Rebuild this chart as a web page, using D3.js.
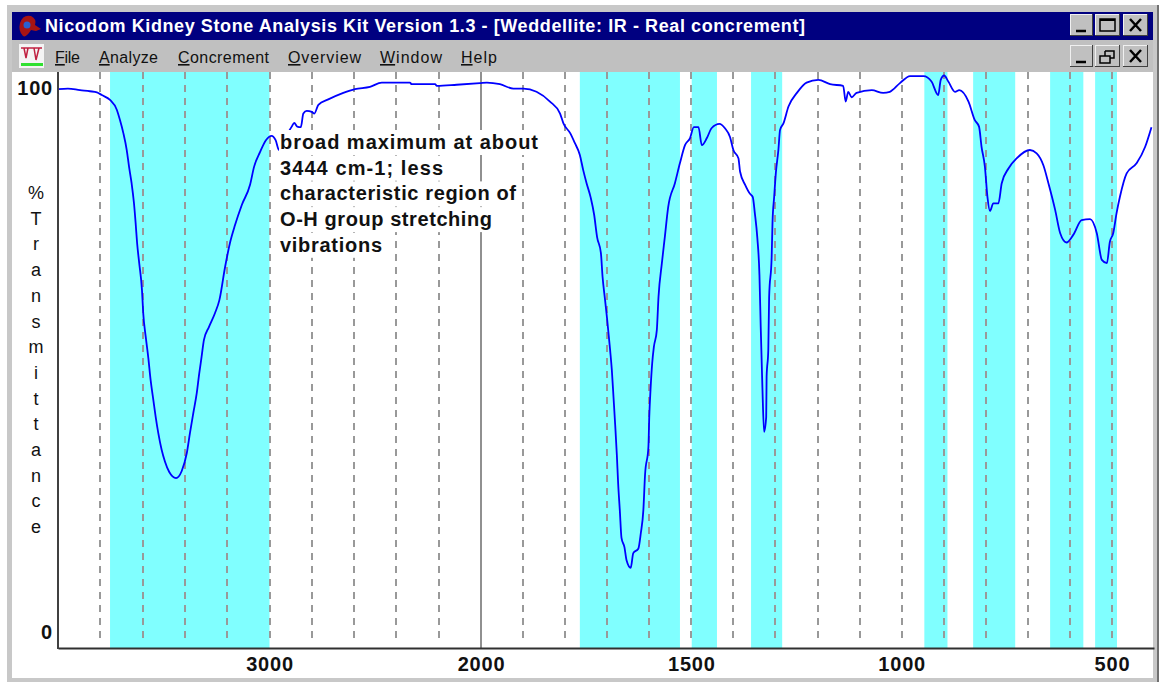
<!DOCTYPE html>
<html>
<head>
<meta charset="utf-8">
<title>Weddellite: IR - Real concrement</title>
<script src="https://cdn.jsdelivr.net/npm/d3@7"></script>
<style>
    html, body { margin: 0; padding: 0; background: #fff; }
    svg { display: block; font-family: "Liberation Sans", Arial, sans-serif; }
</style>
</head>
<body>
<div id="svg-container"></div>
<script>
const titleText = "Nicodom Kidney Stone Analysis Kit Version 1.3 - [Weddellite: IR - Real concrement]";
const menuNames = ["File", "Analyze", "Concrement", "Overview", "Window", "Help"];
const yLetters = "%Transmittance".split("");
const noteLines = [
    "broad maximum at about",
    "3444 cm-1; less",
    "characteristic region of",
    "O-H group stretching",
    "vibrations"
];

// wavenumber axis is not linear: 4000-2000 is squeezed to half the scale of 2000-400
const xBreaks = [4000, 2000, 400];
const xTicks = [3000, 2000, 1500, 1000, 500];
const yTicks = [0, 100];
const dashedLines = [3800, 3600, 3400, 3200, 3000, 2800, 2600, 2400, 2200,
    1900, 1800, 1700, 1600, 1500, 1400, 1300, 1200, 1100, 1000, 900, 800, 700, 600, 500];
const bandStart = [3754, 1765, 1499, 1358, 946, 830, 647, 540];
const bandEnd = [3000, 1527, 1439, 1284, 891, 730, 568, 488];

const wavenumber = [
    3999, 3953, 3896, 3849, 3816, 3793, 3754, 3722, 3707, 3691, 3675, 3664, 3652, 3641, 3633, 3626,
    3616, 3603, 3597, 3585, 3573, 3562, 3549, 3538, 3526, 3510, 3494, 3474, 3442, 3415, 3391, 3376,
    3360, 3344, 3332, 3321, 3310, 3286, 3258, 3237, 3210, 3187, 3163, 3131, 3092, 3073, 3045, 3017,
    2990, 2971, 2955, 2927, 2895, 2883, 2869, 2852, 2840, 2824, 2800, 2788, 2769, 2722, 2651, 2596,
    2525, 2469, 2416, 2336, 2328, 2217, 2209, 2115, 2005, 1986, 1955, 1923, 1899, 1868, 1836, 1812,
    1804, 1788, 1777, 1765, 1757, 1749, 1739, 1731, 1724, 1715, 1711, 1705, 1700, 1693, 1689, 1685,
    1681, 1677, 1674, 1670, 1666, 1659, 1654, 1644, 1638, 1626, 1620, 1614, 1610, 1602, 1600, 1597,
    1593, 1589, 1582, 1578, 1570, 1563, 1555, 1539, 1527, 1515, 1503, 1494, 1483, 1475, 1463, 1452,
    1433, 1420, 1408, 1400, 1388, 1384, 1372, 1360, 1354, 1349, 1343, 1338, 1335, 1331, 1327, 1322,
    1321, 1317, 1315, 1309, 1307, 1303, 1299, 1293, 1289, 1281, 1269, 1249, 1226, 1198, 1170, 1139,
    1133, 1127, 1119, 1107, 1071, 1044, 1028, 1004, 980, 948, 929, 913, 907, 899, 889, 873,
    863, 841, 826, 816, 810, 802, 796, 790, 782, 770, 762, 746, 726, 695, 679, 663,
    651, 635, 623, 608, 592, 572, 552, 536, 524, 512, 505, 497, 489, 481, 465, 441,
    421, 406
];
const transmittance = [
    99.8, 99.9, 99.6, 99.4, 99.2, 98.7, 97.8, 96, 94.1, 91.7, 88.6, 85.5, 82.5, 78.9, 75.2, 71.5,
    67.8, 62.9, 58.6, 54.2, 50.4, 46.3, 42.6, 39.5, 36.6, 33.5, 31.3, 29.4, 28.3, 29.6, 32.9, 36.6,
    40.3, 43.9, 47.6, 50.6, 53.7, 56.1, 58.6, 61, 67.1, 71.5, 74.8, 78.5, 82.2, 85.5, 88.2, 90.4,
    91.2, 90.4, 88.6, 90.8, 92.9, 93.6, 92.9, 92.8, 95.3, 95.8, 95.6, 95.3, 96.9, 97.9, 99.1, 99.8,
    100.2, 101, 101, 101, 100.7, 100.7, 100.4, 100.6, 100.9, 101, 100.7, 99.9, 99.9, 99.3, 97.5, 95.3,
    93.5, 91.7, 89.9, 87.7, 84.9, 82.5, 79.8, 76.7, 72.6, 69.7, 65.3, 61, 57.4, 51.8, 48.2, 43.2,
    38.1, 32.5, 27.4, 22.4, 17.3, 15.6, 13.2, 11.8, 14.5, 15.3, 18.2, 22.4, 28.9, 34, 39.5, 44.5,
    49.4, 52.4, 55.5, 61.6, 67.8, 72.6, 78.1, 82.5, 86.2, 89.5, 90.8, 92.8, 92.8, 89.5, 90.8, 92.6,
    93.4, 92.6, 91, 88.6, 87.1, 84.6, 82.2, 80.5, 80, 77, 72.4, 65.6, 56.1, 45, 36.8, 39.5,
    46.9, 51.8, 61.6, 68.9, 75.2, 80, 84.4, 88.6, 92.3, 93.5, 96.6, 99.1, 101, 101.5, 100.7, 100.4,
    97.5, 99.3, 98.3, 99.1, 99.6, 99.1, 99.3, 100.9, 102.2, 102.2, 101.2, 98.7, 101.5, 102.3, 101.2, 99.3,
    99.6, 97.5, 94.1, 92.9, 89.2, 85.5, 80, 77.4, 78.8, 78.8, 82.5, 85.2, 87.1, 88.6, 88, 85.8,
    82.5, 77.6, 73.3, 71.6, 73, 75.7, 75.9, 73.3, 68.4, 67.8, 71.7, 73.3, 77, 80, 84.3, 86.2,
    89.2, 92.8
];

const width = 1161;
const height = 682;

const svg = d3.select("#svg-container")
    .append("svg")
    .attr("width", width)
    .attr("height", height)
    .attr("viewBox", `0 0 ${width} ${height}`);

const x = d3.scaleLinear().domain(xBreaks).range([58, 481, 1154]);
const y = d3.scaleLinear().domain([0, 100]).range([632, 88]);
const plotTop = 72;
const plotBottom = 648;

// window frame
svg.append("rect").attr("x", 7).attr("y", 5).attr("width", 1151).attr("height", 677).attr("fill", "#c8c8c8");
svg.append("rect").attr("x", 1157).attr("y", 5).attr("width", 2).attr("height", 677).attr("fill", "#707070");
svg.append("rect").attr("x", 12).attr("y", 72).attr("width", 1141).attr("height", 606).attr("fill", "#fff");
svg.append("rect").attr("x", 12).attr("y", 12).attr("width", 1141).attr("height", 28).attr("fill", "#000080");
svg.append("rect").attr("x", 12).attr("y", 40).attr("width", 1141).attr("height", 32).attr("fill", "#c0c0c0");

svg.append("path")
    .attr("d", "M20 23 Q23 14 31 16 Q37 19 35 25 L41 29 L36 31 L31 30 Q26 38 23 36 Q18 31 20 23 Z")
    .attr("fill", "#a81414");
svg.append("circle").attr("cx", 27).attr("cy", 25).attr("r", 3.5).attr("fill", "#2a60d0");

svg.append("text")
    .attr("x", 45).attr("y", 32)
    .attr("textLength", 760)
    .attr("font-size", 18).attr("font-weight", "bold").attr("fill", "#fff")
    .text(titleText);

// menu bar
const menuX = [55, 99, 178, 288, 380, 461];
const menuW = [25, 59, 91, 73, 62, 36];
const menu = svg.selectAll(".menu")
    .data(menuNames)
    .enter()
    .append("text")
    .attr("class", "menu")
    .attr("x", (d, i) => menuX[i]).attr("y", 63)
    .attr("textLength", (d, i) => menuW[i])
    .attr("font-size", 16).attr("fill", "#111");
menu.append("tspan").attr("text-decoration", "underline").text(d => d[0]);
menu.append("tspan").text(d => d.slice(1));

const icon = svg.append("g");
icon.append("rect").attr("x", 19).attr("y", 44).attr("width", 25).attr("height", 24).attr("fill", "#f4f4f4");
icon.append("path").attr("d", "M21 48 H42 M24 48 L26 58 L28 48 M34 48 L36 60 L39 48").attr("fill", "none").attr("stroke", "#c02040").attr("stroke-width", 1.5);
icon.append("rect").attr("x", 21).attr("y", 63).attr("width", 22).attr("height", 3).attr("fill", "#30e030");

// caption buttons
const drawButton = (bx, by, w, h, kind) => {
    const g = svg.append("g").attr("transform", `translate(${bx},${by})`);
    g.append("rect").attr("width", w).attr("height", h).attr("fill", "#404040");
    g.append("rect").attr("width", w - 1).attr("height", h - 1).attr("fill", "#f0f0f0");
    g.append("rect").attr("x", 1).attr("y", 1).attr("width", w - 2).attr("height", h - 2).attr("fill", "#c0c0c0");
    const stroke = (d, sw) => g.append("path").attr("d", d).attr("fill", "none").attr("stroke", "#000").attr("stroke-width", sw);
    if (kind === "min") stroke(`M6 ${h - 5} H16`, 2.5);
    if (kind === "max") { stroke(`M5 5 H${w - 5} V${h - 5} H5 Z`, 1.5); stroke(`M5 6 H${w - 5}`, 2); }
    if (kind === "close") stroke(`M7 5 L${w - 7} ${h - 5} M${w - 7} 5 L7 ${h - 5}`, 2.5);
    if (kind === "restore") {
        stroke("M10 6 H19 V13 H15", 1.5);
        stroke("M5 11 H15 V18 H5 Z M10 6 V11", 1.5);
    }
};
drawButton(1070, 14, 23, 22, "min");
drawButton(1095, 14, 25, 22, "max");
drawButton(1123, 14, 25, 22, "close");
drawButton(1070, 45, 23, 22, "min");
drawButton(1095, 45, 25, 22, "restore");
drawButton(1123, 45, 25, 22, "close");

// absorption bands
svg.selectAll(".band")
    .data(bandStart)
    .enter()
    .append("rect")
    .attr("class", "band")
    .attr("x", d => x(d))
    .attr("y", plotTop)
    .attr("width", (d, i) => x(bandEnd[i]) - x(d))
    .attr("height", plotBottom - plotTop)
    .attr("fill", "#80ffff");

// dashed grid, plus the solid line at 2000
svg.selectAll(".grid")
    .data(dashedLines)
    .enter()
    .append("line")
    .attr("class", "grid")
    .attr("x1", d => Math.round(x(d))).attr("x2", d => Math.round(x(d)))
    .attr("y1", plotTop).attr("y2", plotBottom - 4)
    .attr("stroke", "#999")
    .attr("stroke-width", 2)
    .attr("stroke-dasharray", "7,6");
svg.append("line")
    .attr("x1", Math.round(x(2000))).attr("x2", Math.round(x(2000)))
    .attr("y1", plotTop).attr("y2", plotBottom)
    .attr("stroke", "#909090")
    .attr("stroke-width", 2);

// spectrum
const line = d3.line().x(d => x(d[0])).y(d => y(d[1])).curve(d3.curveMonotoneX);
svg.append("path")
    .datum(d3.zip(wavenumber, transmittance))
    .attr("d", line)
    .attr("fill", "none")
    .attr("stroke", "#0000ff")
    .attr("stroke-width", 1.8);

// axes
const xAxis = svg.append("g")
    .attr("transform", `translate(0,${plotBottom})`)
    .call(d3.axisBottom(x).tickValues(xTicks).tickSize(0).tickPadding(9).tickFormat(d3.format("d")));
const yAxis = svg.append("g")
    .attr("transform", "translate(58,0)")
    .call(d3.axisLeft(y).tickValues(yTicks).tickSize(0).tickPadding(5).tickFormat(d3.format("d")));
xAxis.select(".domain").attr("stroke", "#303030").attr("stroke-width", 2);
yAxis.select(".domain").remove();
svg.append("line")
    .attr("x1", 58).attr("x2", 58).attr("y1", plotTop).attr("y2", plotBottom + 1)
    .attr("stroke", "#404040").attr("stroke-width", 2);
svg.selectAll(".tick text")
    .attr("font-family", "'Liberation Sans', Arial, sans-serif")
    .attr("font-size", 20)
    .attr("font-weight", "bold")
    .attr("letter-spacing", 0.8)
    .attr("fill", "#111");

svg.selectAll(".ylab")
    .data(yLetters)
    .enter()
    .append("text")
    .attr("class", "ylab")
    .attr("x", 36)
    .attr("y", (d, i) => 199 + i * 25.7)
    .attr("text-anchor", "middle")
    .attr("font-size", 18)
    .attr("fill", "#111")
    .text(d => d);

// annotation, each row has its own white background
const noteW = [258, 163, 236, 212, 102];
noteLines.forEach((t, i) => {
    const rowY = 130 + i * 25.7;
    svg.append("rect").attr("x", 279).attr("y", rowY).attr("width", noteW[i] + 2).attr("height", 25).attr("fill", "#fff");
    svg.append("text")
        .attr("x", 280).attr("y", rowY + 19)
        .attr("textLength", noteW[i])
        .attr("font-size", 20).attr("font-weight", "bold").attr("fill", "#111")
        .text(t);
});
</script>
</body>
</html>
